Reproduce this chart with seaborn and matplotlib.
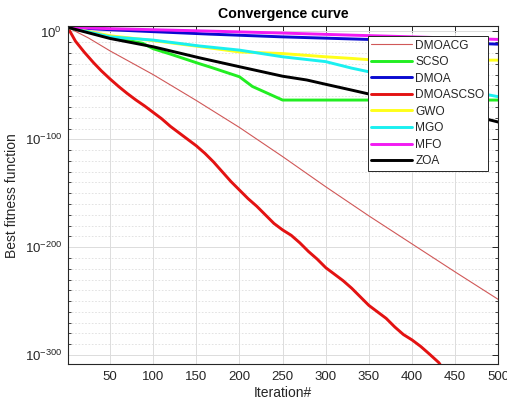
import numpy as np
import pandas as pd
import matplotlib
matplotlib.use("Agg")
import matplotlib.pyplot as plt
import matplotlib.ticker as mticker
import seaborn as sns

# ---- data (values given as log10 of best fitness) ----
algorithms = ["DMOACG", "SCSO", "DMOA", "DMOASCSO", "GWO", "MGO", "MFO", "ZOA"]

dmoacg_iter = [1, 25, 50, 100, 150, 200, 250, 300, 350, 400, 450, 500]
dmoacg_log10 = [3.8, -6, -18, -40, -64, -89, -116, -144, -171, -197, -223, -248.5]

scso_iter = [1, 50, 65, 88, 100, 120, 154, 166, 200, 215, 250, 300, 400, 500]
scso_log10 = [3.8, -5, -7.5, -11, -16, -21, -30, -33, -42, -51, -63.6, -63.6, -63.6, -63.6]

dmoa_iter = [1, 50, 100, 166, 249, 349, 420, 500]
dmoa_log10 = [3.8, 1.6, -0.2, -2.5, -5.0, -7.4, -9.5, -11.8]

dmoascso_iter = [1, 10, 20, 31, 40, 50, 60, 70, 80, 90, 100, 110, 120, 130, 140,
                 150, 160, 170, 180, 190, 200, 210, 220, 230, 240, 250, 260, 270,
                 280, 290, 300, 310, 320, 330, 340, 350, 360, 370, 380, 390, 400,
                 410, 420, 431, 436]
dmoascso_log10 = [3.8, -9, -19, -29, -36.5, -44, -51, -57.5, -63.5, -69, -75, -81,
                  -88, -94, -100, -106, -113, -121, -130, -139, -147, -155, -162,
                  -170, -178, -184, -189, -196, -204, -211, -219, -225, -231, -238,
                  -246, -254, -260, -266, -274, -281, -286, -292, -299, -307, -313]

gwo_iter = [1, 50, 100, 154, 200, 250, 300, 330, 350, 400, 450, 500]
gwo_log10 = [3.8, -4, -8.5, -14, -19, -20.5, -23.5, -25, -26.2, -26.5, -26.6, -26.6]

mgo_iter = [1, 50, 100, 154, 200, 250, 300, 330, 350, 400, 450, 500]
mgo_log10 = [3.8, -5, -8, -13.5, -17.3, -23.5, -28, -34, -37.4, -45, -53, -60.5]

mfo_iter = [1, 50, 100, 166, 250, 329, 400, 500]
mfo_log10 = [3.8, 2.6, 1.6, 0.3, -1.5, -3.4, -5.0, -7.4]

zoa_iter = [1, 50, 100, 154, 200, 250, 278, 300, 328, 350, 400, 450, 500]
zoa_log10 = [3.8, -6.5, -14.2, -24.5, -32.7, -41.5, -45, -49, -54, -58, -66, -74, -84]

y_major_ticks = [1e-300, 1e-200, 1e-100, 1e0]
y_major_labels = ["$10^{-300}$", "$10^{-200}$", "$10^{-100}$", "$10^{0}$"]
x_ticks = [50, 100, 150, 200, 250, 300, 350, 400, 450, 500]

series = {
    "DMOACG": (dmoacg_iter, dmoacg_log10),
    "SCSO": (scso_iter, scso_log10),
    "DMOA": (dmoa_iter, dmoa_log10),
    "DMOASCSO": (dmoascso_iter, dmoascso_log10),
    "GWO": (gwo_iter, gwo_log10),
    "MGO": (mgo_iter, mgo_log10),
    "MFO": (mfo_iter, mfo_log10),
    "ZOA": (zoa_iter, zoa_log10),
}
colors = {
    "DMOACG": "#d05858",
    "SCSO": "#22ee22",
    "DMOA": "#0a0ad0",
    "DMOASCSO": "#e31212",
    "GWO": "#ffff1a",
    "MGO": "#1af0f0",
    "MFO": "#f21af2",
    "ZOA": "#000000",
}
widths = {a: 2.1 for a in algorithms}
widths["DMOACG"] = 0.8

frames = []
for a in algorithms:
    it, lg = series[a]
    frames.append(pd.DataFrame({"Iteration": it,
                                "Fitness": np.power(10.0, np.array(lg, dtype=float)),
                                "Algorithm": a}))
df = pd.concat(frames, ignore_index=True)

# ---- style ----
sns.set_theme(style="white")
plt.rcParams["font.family"] = ["Liberation Sans", "DejaVu Sans"]
plt.rcParams["mathtext.fontset"] = "custom"
plt.rcParams["mathtext.rm"] = "Liberation Sans"
plt.rcParams["mathtext.it"] = "Liberation Sans:italic"
plt.rcParams["mathtext.bf"] = "Liberation Sans:bold"

fig = plt.figure(figsize=(5.07, 4.05), dpi=100)
ax = fig.add_axes([0.1335, 0.1012, 0.8495, 0.8334])

for a in algorithms:
    sns.lineplot(data=df[df["Algorithm"] == a], x="Iteration", y="Fitness",
                 color=colors[a], linewidth=widths[a], label=a, ax=ax,
                 estimator=None, sort=False)

ax.set_yscale("log")
ax.set_xlim(1, 500)
ax.set_ylim(10.0 ** -308.3, 10.0 ** 4.6)

ax.xaxis.set_major_locator(mticker.FixedLocator(x_ticks))
ax.xaxis.set_minor_locator(mticker.NullLocator())
ax.yaxis.set_major_locator(mticker.FixedLocator(y_major_ticks))
ax.yaxis.set_major_formatter(mticker.FixedFormatter(y_major_labels))
ax.yaxis.set_minor_locator(mticker.FixedLocator([10.0 ** k for k in range(-300, 5, 10)
                                                 if k % 100 != 0]))
ax.yaxis.set_minor_formatter(mticker.NullFormatter())

ax.grid(True, which="major", axis="both", color="#dcdcdc", linewidth=0.7, linestyle="-")
ax.grid(True, which="minor", axis="y", color="#dedede", linewidth=0.6, linestyle=(0, (2, 2)))
ax.set_axisbelow(True)

ax.tick_params(axis="both", which="major", direction="in", length=4, width=0.7,
               colors="#262626", labelsize=9.5, top=True, right=True, pad=4)
ax.tick_params(axis="y", which="minor", direction="in", length=2.2, width=0.6,
               color="#262626", left=True, right=True)
ax.tick_params(axis="x", which="major", pad=5)
for s in ax.spines.values():
    s.set_color("#262626")
    s.set_linewidth(0.8)
    s.set_visible(True)

ax.set_title("Convergence curve", fontsize=10.2, fontweight="bold", pad=6, color="black")
ax.set_xlabel("Iteration#", fontsize=10, color="#262626", labelpad=2)
ax.set_ylabel("Best fitness function", fontsize=10, color="#262626", labelpad=4)

leg = ax.legend(loc="upper right", bbox_to_anchor=(0.976, 0.972), borderaxespad=0,
                fontsize=8.6, frameon=True, fancybox=False, framealpha=1,
                edgecolor="#262626", handlelength=3.4, labelspacing=0.38,
                handletextpad=0.3, borderpad=0.3)
leg.get_frame().set_linewidth(0.7)
for h in leg.get_lines():
    h.set_linewidth(2.1 if h.get_label() != "DMOACG" else 0.8)

fig.savefig("out.png", dpi=100)
